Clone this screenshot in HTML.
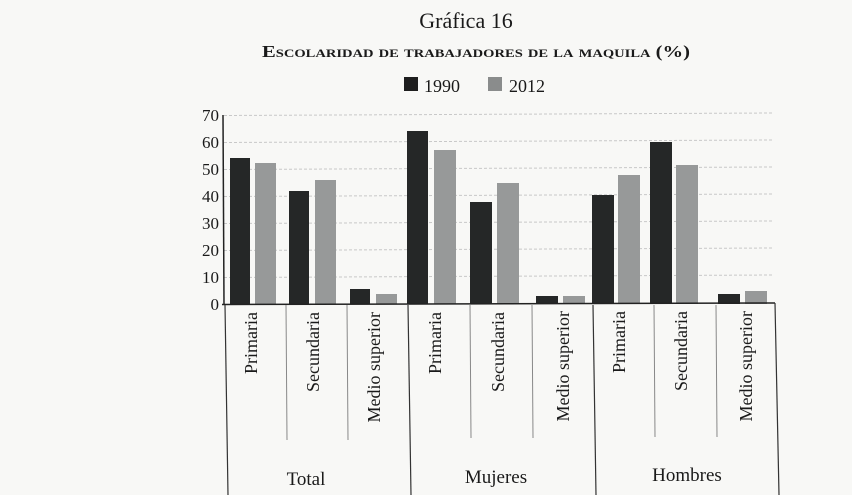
<!DOCTYPE html>
<html><head><meta charset="utf-8"><style>
html,body{margin:0;padding:0;background:#f8f8f6;}
svg{display:block;font-family:"Liberation Serif",serif;}
</style></head><body>
<svg width="852" height="495" viewBox="0 0 852 495">
<rect width="852" height="495" fill="#f8f8f6"/>
<text x="466" y="28" font-size="22" text-anchor="middle" fill="#1a1a1a">Gráfica 16</text>
<text x="476" y="57" font-size="17" text-anchor="middle" fill="#1a1a1a" font-weight="bold" style="font-variant:small-caps" textLength="428" lengthAdjust="spacingAndGlyphs">Escolaridad de trabajadores de la maquila (%)</text>
<rect x="404" y="77" width="14" height="14" fill="#1e1e1e"/>
<text x="424" y="92" font-size="18" fill="#1a1a1a">1990</text>
<rect x="488" y="77" width="14" height="14" fill="#8a8c8c"/>
<text x="509" y="92" font-size="18" fill="#1a1a1a">2012</text>
<g stroke="#c8c8c8" stroke-width="1" stroke-dasharray="3,2">
<line x1="224" y1="115.5" x2="772" y2="113"/>
<line x1="224" y1="142.5" x2="772" y2="140"/>
<line x1="224" y1="169.5" x2="772" y2="167"/>
<line x1="224" y1="196.5" x2="772" y2="194"/>
<line x1="224" y1="223.5" x2="772" y2="221"/>
<line x1="224" y1="250.5" x2="772" y2="248"/>
<line x1="224" y1="277.5" x2="772" y2="275"/>
</g>
<g font-size="17" text-anchor="end" fill="#1a1a1a">
<text x="219" y="121">70</text><text x="219" y="148">60</text><text x="219" y="175">50</text>
<text x="219" y="202">40</text><text x="219" y="229">30</text><text x="219" y="256">20</text>
<text x="219" y="283">10</text><text x="219" y="310">0</text>
</g>
<g fill="#252727">
<rect x="230" y="158" width="20" height="146"/>
<rect x="289" y="191" width="20" height="113"/>
<rect x="350" y="289" width="20" height="15"/>
<rect x="407" y="131" width="21" height="173"/>
<rect x="470" y="202" width="22" height="102"/>
<rect x="536" y="296" width="22" height="8"/>
<rect x="592" y="195" width="22" height="109"/>
<rect x="650" y="142" width="22" height="162"/>
<rect x="718" y="294" width="22" height="10"/>
</g>
<g fill="#979999">
<rect x="255" y="163" width="21" height="141"/>
<rect x="315" y="180" width="21" height="124"/>
<rect x="376" y="294" width="21" height="10"/>
<rect x="434" y="150" width="22" height="154"/>
<rect x="497" y="183" width="22" height="121"/>
<rect x="563" y="296" width="22" height="8"/>
<rect x="618" y="175" width="22" height="129"/>
<rect x="676" y="165" width="22" height="139"/>
<rect x="745" y="291" width="22" height="13"/>
</g>
<line x1="223" y1="115" x2="224" y2="305" stroke="#222" stroke-width="1.5"/>
<line x1="222" y1="304.5" x2="775" y2="303" stroke="#222" stroke-width="1.5"/>
<g stroke="#333" stroke-width="1.2">
<line x1="225" y1="305" x2="228" y2="495"/>
<line x1="408" y1="305" x2="411" y2="495"/>
<line x1="593" y1="305" x2="596" y2="495"/>
<line x1="775" y1="303" x2="779" y2="495"/>
</g>
<g stroke="#888" stroke-width="1">
<line x1="286" y1="305" x2="287" y2="440"/>
<line x1="347" y1="305" x2="348" y2="440"/>
<line x1="470" y1="305" x2="471" y2="438"/>
<line x1="532" y1="305" x2="533" y2="438"/>
<line x1="654" y1="305" x2="655" y2="437"/>
<line x1="716" y1="305" x2="717" y2="437"/>
</g>
<g font-size="18" fill="#1a1a1a" text-anchor="end">
<text transform="translate(257,312) rotate(-90)">Primaria</text>
<text transform="translate(319,312) rotate(-90)">Secundaria</text>
<text transform="translate(380,312) rotate(-90)">Medio superior</text>
<text transform="translate(441,312) rotate(-90)">Primaria</text>
<text transform="translate(504,312) rotate(-90)">Secundaria</text>
<text transform="translate(569,311) rotate(-90)">Medio superior</text>
<text transform="translate(625,311) rotate(-90)">Primaria</text>
<text transform="translate(687,311) rotate(-90)">Secundaria</text>
<text transform="translate(752,311) rotate(-90)">Medio superior</text>
</g>
<g font-size="19" fill="#1a1a1a" text-anchor="middle">
<text x="306" y="485">Total</text>
<text x="496" y="483">Mujeres</text>
<text x="687" y="481">Hombres</text>
</g>
</svg>
</body></html>
